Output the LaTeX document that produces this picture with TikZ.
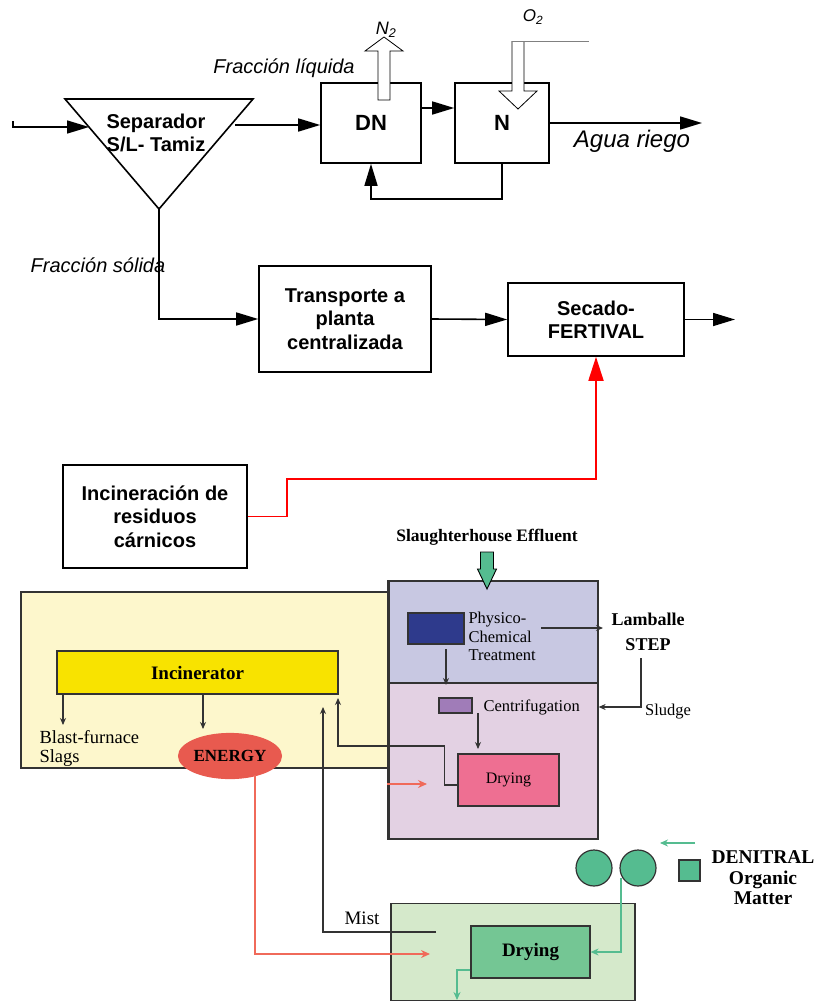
\documentclass[tikz,border=0pt]{standalone}
\usepackage{fontspec}
\setmainfont{Liberation Serif}
\setsansfont{Liberation Sans}
\usetikzlibrary{arrows.meta,shapes.geometric}

\definecolor{kilnpanel}{HTML}{FDF7CC}
\definecolor{kilnyellow}{HTML}{F8E300}
\definecolor{energyred}{HTML}{E85A4F}
\definecolor{lavpanel}{HTML}{C8C8E2}
\definecolor{pinkpanel}{HTML}{E3D1E3}
\definecolor{physblue}{HTML}{2E3A8C}
\definecolor{centpurple}{HTML}{A07CB8}
\definecolor{drypink}{HTML}{EE6F92}
\definecolor{salmon}{HTML}{F06A5A}
\definecolor{denigreen}{HTML}{55BC90}
\definecolor{greenpanel}{HTML}{D5E9CB}
\definecolor{drygreen}{HTML}{74C694}
\definecolor{edgegray}{HTML}{333333}

\begin{document}
\begin{tikzpicture}[x=1pt,y=-1pt,
    box/.style={draw,line width=1.6pt,align=center,inner sep=0pt,
        font=\sffamily\bfseries\fontsize{20}{23.5}\selectfont},
    itlbl/.style={font=\sffamily\itshape\fontsize{20}{24}\selectfont},
    arr/.style={line width=1.6pt,-{Triangle[length=22pt,width=13pt]}},
    redarr/.style={red,line width=1.8pt,-{Triangle[length=24pt,width=15pt]}},
    panel/.style={draw=edgegray,line width=1.2pt,inner sep=0pt},
    sarr/.style={edgegray,line width=1.1pt,-{Stealth[length=7pt,width=6pt]}},
    salarr/.style={salmon,line width=1.1pt,-{Stealth[length=9pt,width=8pt]}},
    garr/.style={denigreen,line width=1.1pt,-{Stealth[length=8pt,width=7pt]}},
    serif/.style={font=\rmfamily\fontsize{16.5}{18.5}\selectfont},
    bserif/.style={font=\rmfamily\bfseries\fontsize{18}{20.5}\selectfont}]
    \useasboundingbox (0,0) rectangle (816,1001);

    % upper scheme
    \coordinate (septl) at (65,99);
    \coordinate (septr) at (253,99);
    \coordinate (sepbot) at (159,209);
    \draw[line width=1.6pt,line join=miter] (septl)--(septr)--(sepbot)--cycle;
    \node[font=\sffamily\bfseries\fontsize{20}{23.5}\selectfont,align=center] (sep) at (156,133) {Separador\\S/L- Tamiz};

    \coordinate (feed) at (13,121);
    \coordinate (sepin) at (89,127);
    \draw[arr] (feed)|-(sepin);

    \node[box,minimum width=100pt,minimum height=80pt,font=\sffamily\bfseries\fontsize{22}{24}\selectfont] (dn) at (371,123) {DN};
    \node[box,minimum width=94pt,minimum height=80pt,font=\sffamily\bfseries\fontsize{22}{24}\selectfont] (nit) at (502,123) {N};

    \coordinate (sepout) at (235,125);
    \draw[arr] (sepout)--(sepout-|dn.west);
    \node[itlbl] (liq) at (284,68) {Fracción líquida};
    \draw[arr] ([yshift=15pt]dn.east)--([yshift=15pt]nit.west);
    \draw[arr] (nit.south)--++(0,35)-|(dn.south);

    \coordinate (riego) at (702,123);
    \draw[arr] (nit.east)--(riego);
    \node[itlbl,font=\sffamily\itshape\fontsize{24}{26}\selectfont] (agua) at (632,141) {Agua riego};

    \draw[line width=0.8pt,fill=white] (378,100)--(378,51)--(365,51)--(384,37)--(403,51)--(390,51)--(390,100)--cycle;
    \node[itlbl,font=\sffamily\itshape\fontsize{18}{20}\selectfont] (ntwo) at (386,30) {N\textsubscript{2}};
    \draw[line width=0.8pt,fill=white] (512,41)--(512,91)--(499,91)--(518,109)--(537,91)--(524,91)--(524,41);
    \draw[gray,line width=1pt] (512,41)--(589,41);
    \node[itlbl,font=\sffamily\itshape\fontsize{17}{20}\selectfont] (otwo) at (533,17) {O\textsubscript{2}};

    \node[itlbl] (sol) at (98,265) {Fracción sólida};
    \node[box,minimum width=172pt,minimum height=106pt] (trans) at (345,319) {Transporte a\\planta\\centralizada};
    \node[box,minimum width=176pt,minimum height=73pt] (sec) at (596,319.5) {Secado-\\FERTIVAL};
    \draw[arr] (sepbot)|-(trans.west);
    \draw[arr] (trans.east)--(sec.west);
    \coordinate (secout) at (735,319.5);
    \draw[arr] (sec.east)--(secout);

    \node[box,minimum width=184pt,minimum height=103pt] (inc) at (155,516.5) {Incineración de\\residuos\\cárnicos};
    \draw[redarr] (inc.east)-|(287,479)-|(sec.south);

    % lower scheme
    \node[panel,fill=kilnpanel,minimum width=372pt,minimum height=176pt] (kiln) at (207,680) {};
    \node[panel,fill=kilnyellow,minimum width=281pt,minimum height=43pt,font=\rmfamily\bfseries\fontsize{19}{21}\selectfont] (incin) at (197.5,672.5) {Incinerator};
    \node[panel,fill=energyred,ellipse,minimum width=96pt,minimum height=45pt,draw=energyred,font=\rmfamily\bfseries\fontsize{17}{19}\selectfont] (energy) at (230,756) {ENERGY};
    \node[serif,align=left,anchor=north west,font=\rmfamily\fontsize{18.5}{19}\selectfont] (slag) at (36,727) {Blast-furnace\\Slags};
    \draw[sarr] (incin.south-|63,0)--(63,725);
    \draw[sarr] (incin.south-|203,0)--(203,729);

    \node[bserif,font=\rmfamily\bfseries\fontsize{17.5}{20}\selectfont] (effl) at (487,537) {Slaughterhouse Effluent};
    \node[panel,fill=lavpanel,minimum width=209pt,minimum height=102pt] (phys) at (493.5,632) {};
    \node[panel,fill=pinkpanel,minimum width=209pt,minimum height=156pt] (cent) at (493.5,761) {};
    \draw[edgegray,line width=2pt] (phys.north west)--(cent.south west);
    \draw[line width=0.9pt,fill=denigreen] (480.5,552)--(493.5,552)--(493.5,569)--(496.5,569)--(487,589)--(477.5,569)--(480.5,569)--cycle;

    \node[panel,fill=physblue,minimum width=56pt,minimum height=31pt] (physbox) at (436,628.5) {};
    \node[serif,align=left,anchor=north west] (physlbl) at (465,609) {Physico-\\Chemical\\Treatment};
    \coordinate (stepin) at (603,628);
    \draw[sarr] (541,628)--(stepin);
    \node[bserif,align=center,font=\rmfamily\bfseries\fontsize{18}{25}\selectfont] (step) at (648,632) {Lamballe\\STEP};
    \draw[sarr] (641,658)|-(cent.east|-0,707);
    \node[serif] (sludge) at (668,712) {Sludge};

    \draw[sarr] (446,649)--(446,685);
    \node[panel,fill=centpurple,minimum width=33pt,minimum height=15pt] (centbox) at (455.5,705.5) {};
    \node[serif,anchor=west] (centlbl) at (480,707) {Centrifugation};
    \draw[sarr] (478,713)--(478,749);
    \node[panel,fill=drypink,minimum width=101pt,minimum height=52pt,font=\rmfamily\fontsize{16}{18}\selectfont] (pdry) at (508.5,780) {Drying};
    \draw[salarr] (387,784)--(427,784);
    \draw[sarr] ([yshift=-5pt]pdry.west)--++(-13,0)|-(338,746)--(338,698);

    \node[panel,fill=greenpanel,minimum width=244pt,minimum height=97pt] (gpanel) at (513,952) {};
    \node[panel,fill=drygreen,minimum width=119pt,minimum height=52pt,font=\rmfamily\bfseries\fontsize{19}{21}\selectfont] (gdry) at (530.5,952) {Drying};
    \draw[garr] (621,878)|-(gdry.east);
    \draw[garr] ([yshift=-18pt]gdry.west)-|(457,1000);

    \coordinate (mist) at (436,932);
    \draw[sarr] (mist)-|(323,707);
    \node[serif,font=\rmfamily\fontsize{19}{20}\selectfont] (mistlbl) at (362,918) {Mist};
    \draw[salarr] (255,775)|-(430,954);

    \node[panel,fill=denigreen,circle,minimum size=36pt] (drum1) at (594,868) {};
    \node[panel,fill=denigreen,circle,minimum size=36pt] (drum2) at (638,868) {};
    \node[panel,fill=denigreen,minimum size=21pt] (denibox) at (689.5,870.5) {};
    \draw[garr] (695,843)--(660,843);
    \node[bserif,align=center,font=\rmfamily\bfseries\fontsize{19.5}{20.5}\selectfont] (deni) at (763,878) {DENITRAL\\Organic\\Matter};
\end{tikzpicture}
\end{document}
